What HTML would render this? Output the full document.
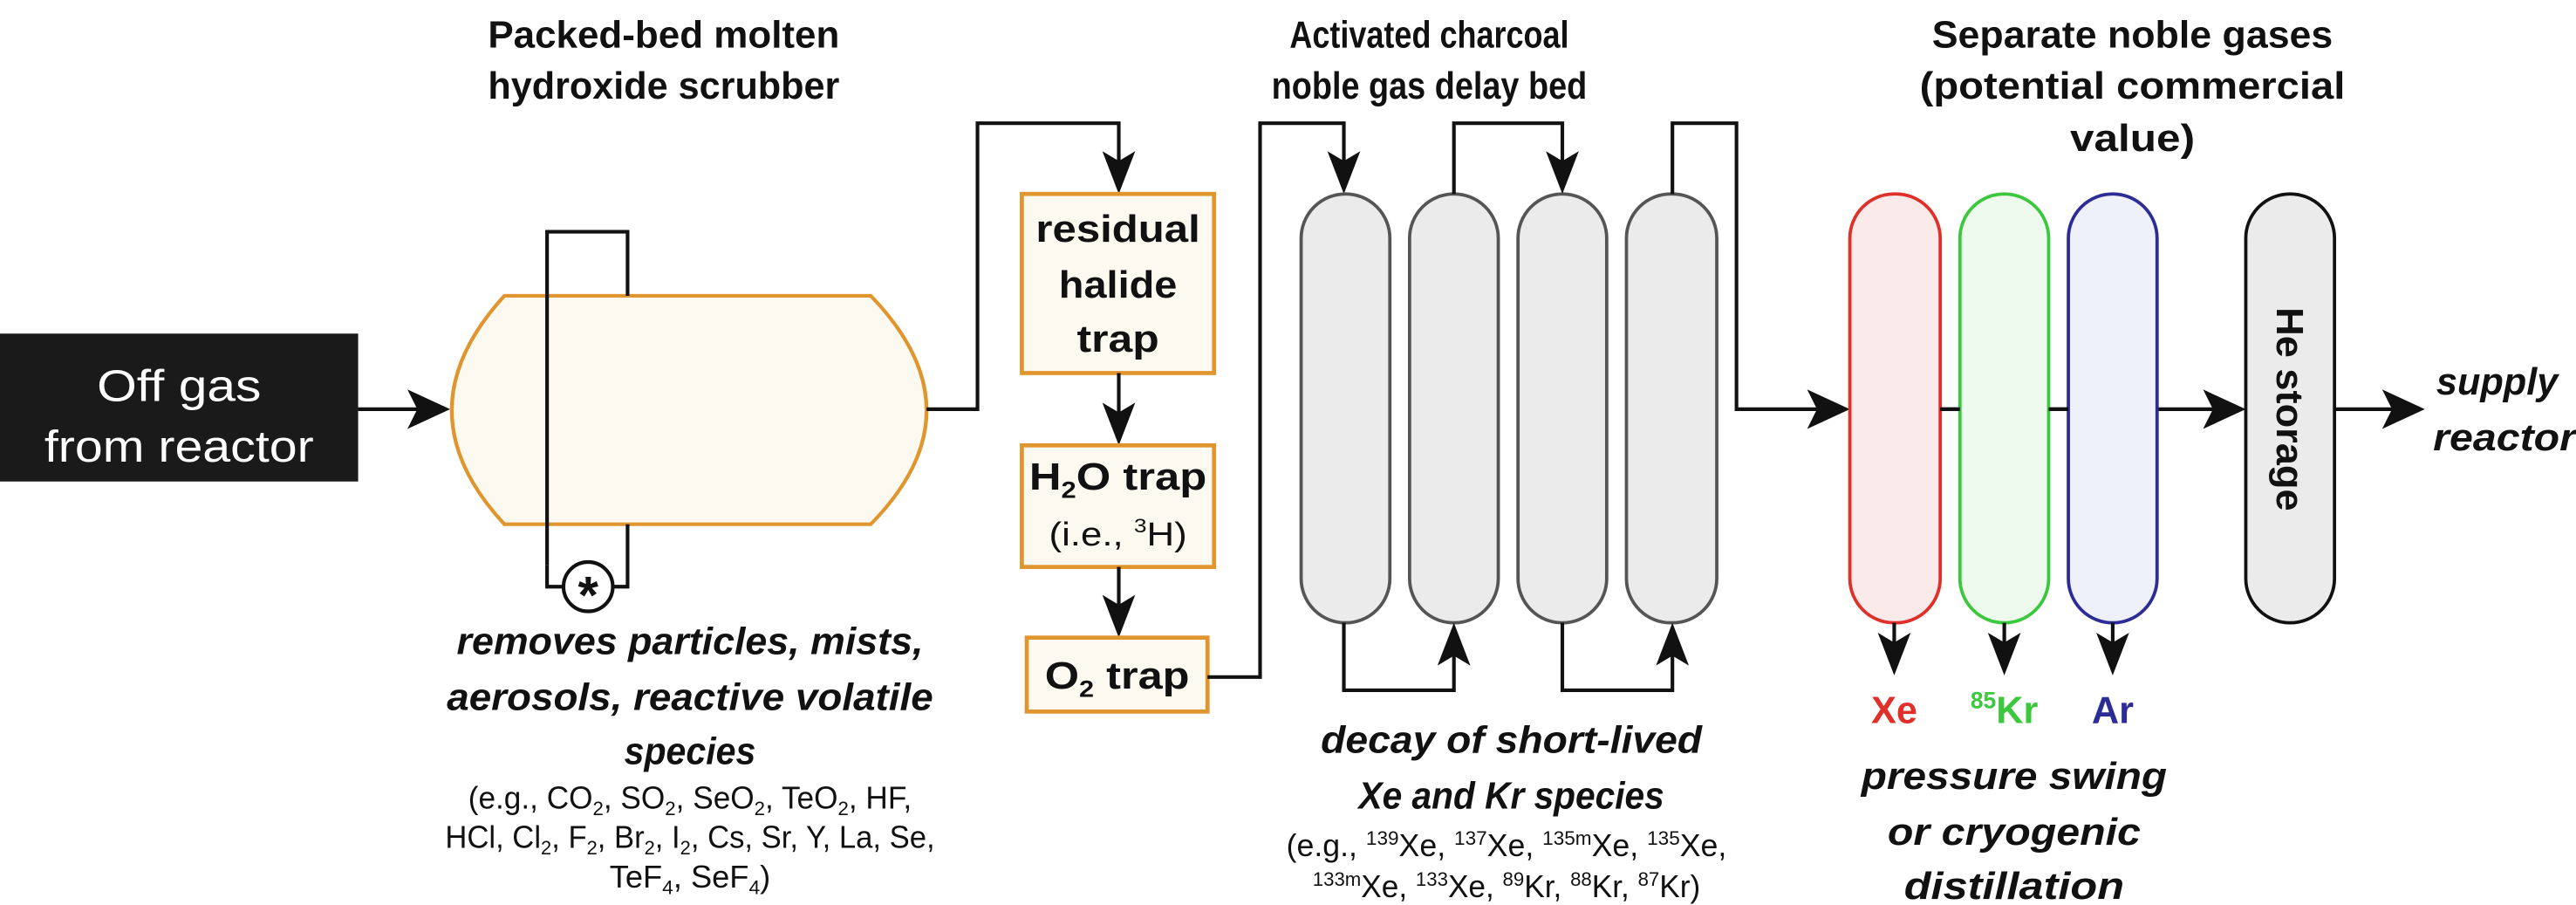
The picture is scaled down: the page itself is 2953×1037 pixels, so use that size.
<!DOCTYPE html>
<html><head><meta charset="utf-8"><style>
html,body{margin:0;padding:0;background:#fff;}
svg{display:block;}
text{font-family:"Liberation Sans",sans-serif;}
.b{font-weight:bold;}
.bi{font-weight:bold;font-style:italic;}
</style></head><body>
<svg width="2953" height="1037" viewBox="0 0 1568 550.7" preserveAspectRatio="none" xmlns="http://www.w3.org/2000/svg">
<g class="b" font-size="23" text-anchor="middle" fill="#111">
<text x="404" y="29" textLength="214" lengthAdjust="spacingAndGlyphs">Packed-bed molten</text>
<text x="404" y="60" textLength="214" lengthAdjust="spacingAndGlyphs">hydroxide scrubber</text>
</g>
<g class="b" font-size="23" text-anchor="middle" fill="#111">
<text x="870" y="29" textLength="170" lengthAdjust="spacingAndGlyphs">Activated charcoal</text>
<text x="870" y="60" textLength="192" lengthAdjust="spacingAndGlyphs">noble gas delay bed</text>
</g>
<g class="b" font-size="23" text-anchor="middle" fill="#111">
<text x="1298" y="29" textLength="244" lengthAdjust="spacingAndGlyphs">Separate noble gases</text>
<text x="1298" y="60" textLength="259" lengthAdjust="spacingAndGlyphs">(potential commercial</text>
<text x="1298" y="92" textLength="76" lengthAdjust="spacingAndGlyphs">value)</text>
</g>

<g>
<rect x="0" y="203" width="218" height="90" fill="#1a1a1a"/>
<text x="109" y="244" font-size="27" fill="#fff" text-anchor="middle" textLength="100" lengthAdjust="spacingAndGlyphs">Off gas</text>
<text x="109" y="281" font-size="27" fill="#fff" text-anchor="middle" textLength="164" lengthAdjust="spacingAndGlyphs">from reactor</text>
</g>
<g>
<line x1="218" y1="249" x2="262" y2="249" stroke="#111" stroke-width="2.2"/>
<polygon points="274,249 248,237 254,249 248,261" fill="#111"/>
</g>

<g>
<path d="M307,180 L530,180 Q598,250 530,319 L307,319 Q243,250 307,180 Z" fill="#fcf9f0" stroke="#e0952e" stroke-width="2.2"/>
</g>
<g fill="none" stroke="#111" stroke-width="2.2">
<path d="M333,344 L333,141 L382,141 L382,180"/>
<path d="M382,319 L382,357 L373,357"/>
<path d="M343,357 L333,357 L333,344"/>
</g>
<g>
<circle cx="358" cy="357" r="15" fill="#fff" stroke="#111" stroke-width="2.2"/>
<text x="358" y="373" font-size="32" font-weight="bold" text-anchor="middle" fill="#111">*</text>
</g>
<g fill="#111" text-anchor="middle">
<text class="bi" x="420" y="398" font-size="23" textLength="284" lengthAdjust="spacingAndGlyphs">removes particles, mists,</text>
<text class="bi" x="420" y="432" font-size="23" textLength="296" lengthAdjust="spacingAndGlyphs">aerosols, reactive volatile</text>
<text class="bi" x="420" y="465" font-size="23" textLength="80" lengthAdjust="spacingAndGlyphs">species</text>
<text x="420" y="492" font-size="19" textLength="270" lengthAdjust="spacingAndGlyphs">(e.g., CO<tspan font-size="12" dy="4">2</tspan><tspan dy="-4">, SO</tspan><tspan font-size="12" dy="4">2</tspan><tspan dy="-4">, SeO</tspan><tspan font-size="12" dy="4">2</tspan><tspan dy="-4">, TeO</tspan><tspan font-size="12" dy="4">2</tspan><tspan dy="-4">, HF,</tspan></text>
<text x="420" y="516" font-size="19" textLength="298" lengthAdjust="spacingAndGlyphs">HCl, Cl<tspan font-size="12" dy="4">2</tspan><tspan dy="-4">, F</tspan><tspan font-size="12" dy="4">2</tspan><tspan dy="-4">, Br</tspan><tspan font-size="12" dy="4">2</tspan><tspan dy="-4">, I</tspan><tspan font-size="12" dy="4">2</tspan><tspan dy="-4">, Cs, Sr, Y, La, Se,</tspan></text>
<text x="420" y="540" font-size="19" textLength="98" lengthAdjust="spacingAndGlyphs">TeF<tspan font-size="12" dy="4">4</tspan><tspan dy="-4">, SeF</tspan><tspan font-size="12" dy="4">4</tspan><tspan dy="-4">)</tspan></text>
</g>

<g>
<path d="M564,249 L595,249 L595,75 L681,75 L681,104" fill="none" stroke="#111" stroke-width="2.2"/>
<polygon points="681,118 671,92 681,98 691,92" fill="#111"/>
</g>
<g>
<rect x="622" y="118" width="117" height="109" fill="#fcf9f0" stroke="#e0952e" stroke-width="2.5"/>
<g class="b" font-size="23" text-anchor="middle" fill="#111">
<text x="680.5" y="147" textLength="100" lengthAdjust="spacingAndGlyphs">residual</text>
<text x="680.5" y="181" textLength="72" lengthAdjust="spacingAndGlyphs">halide</text>
<text x="680.5" y="214" textLength="50" lengthAdjust="spacingAndGlyphs">trap</text>
</g>
</g>
<g>
<line x1="681" y1="227" x2="681" y2="258" stroke="#111" stroke-width="2.2"/>
<polygon points="681,271 671,245 681,251 691,245" fill="#111"/>
</g>
<g>
<rect x="622" y="271" width="117" height="74" fill="#fcf9f0" stroke="#e0952e" stroke-width="2.5"/>
<text class="b" x="680.5" y="298" font-size="23" text-anchor="middle" fill="#111" textLength="108" lengthAdjust="spacingAndGlyphs">H<tspan font-size="14" dy="5">2</tspan><tspan dy="-5">O trap</tspan></text>
<text x="680.5" y="332" font-size="20" text-anchor="middle" fill="#111" textLength="84" lengthAdjust="spacingAndGlyphs">(i.e., <tspan font-size="12" dy="-8">3</tspan><tspan dy="8">H)</tspan></text>
</g>
<g>
<line x1="681" y1="345" x2="681" y2="375" stroke="#111" stroke-width="2.2"/>
<polygon points="681,388 671,362 681,368 691,362" fill="#111"/>
</g>
<g>
<rect x="625" y="388" width="110" height="45" fill="#fcf9f0" stroke="#e0952e" stroke-width="2.5"/>
<text class="b" x="680" y="419" font-size="23" text-anchor="middle" fill="#111" textLength="88" lengthAdjust="spacingAndGlyphs">O<tspan font-size="14" dy="5">2</tspan><tspan dy="-5"> trap</tspan></text>
</g>
<g>
<path d="M735,412 L767,412 L767,75 L818,75 L818,104" fill="none" stroke="#111" stroke-width="2.2"/>
<polygon points="818,118 808,92 818,98 828,92" fill="#111"/>
</g>

<g fill="#ebebeb" stroke="#555" stroke-width="2">
<rect x="792" y="118" width="54" height="261" rx="27" ry="27"/>
<rect x="858" y="118" width="54" height="261" rx="27" ry="27"/>
<rect x="924" y="118" width="54" height="261" rx="27" ry="27"/>
<rect x="990" y="118" width="55" height="261" rx="27" ry="27"/>
</g>
<g>
<path d="M818,379 L818,420 L885,420 L885,393" fill="none" stroke="#111" stroke-width="2.2"/>
<polygon points="885,379 875,405 885,399 895,405" fill="#111"/>
<path d="M885,118 L885,75 L951,75 L951,104" fill="none" stroke="#111" stroke-width="2.2"/>
<polygon points="951,118 941,92 951,98 961,92" fill="#111"/>
<path d="M951,379 L951,420 L1018,420 L1018,393" fill="none" stroke="#111" stroke-width="2.2"/>
<polygon points="1018,379 1008,405 1018,399 1028,405" fill="#111"/>
<path d="M1018,118 L1018,75 L1057,75 L1057,249 L1112,249" fill="none" stroke="#111" stroke-width="2.2"/>
<polygon points="1126,249 1100,237 1106,249 1100,261" fill="#111"/>
</g>
<g fill="#111" text-anchor="middle">
<text class="bi" x="920" y="458" font-size="23" textLength="232" lengthAdjust="spacingAndGlyphs">decay of short-lived</text>
<text class="bi" x="920" y="492" font-size="23" textLength="186" lengthAdjust="spacingAndGlyphs">Xe and Kr species</text>
<text x="917" y="521" font-size="19" textLength="268" lengthAdjust="spacingAndGlyphs">(e.g., <tspan font-size="12" dy="-7">139</tspan><tspan dy="7">Xe, </tspan><tspan font-size="12" dy="-7">137</tspan><tspan dy="7">Xe, </tspan><tspan font-size="12" dy="-7">135m</tspan><tspan dy="7">Xe, </tspan><tspan font-size="12" dy="-7">135</tspan><tspan dy="7">Xe,</tspan></text>
<text x="917" y="546" font-size="19" textLength="236" lengthAdjust="spacingAndGlyphs"><tspan font-size="12" dy="-7">133m</tspan><tspan dy="7">Xe, </tspan><tspan font-size="12" dy="-7">133</tspan><tspan dy="7">Xe, </tspan><tspan font-size="12" dy="-7">89</tspan><tspan dy="7">Kr, </tspan><tspan font-size="12" dy="-7">88</tspan><tspan dy="7">Kr, </tspan><tspan font-size="12" dy="-7">87</tspan><tspan dy="7">Kr)</tspan></text>
</g>

<g>
<line x1="1126" y1="249" x2="1354" y2="249" stroke="#111" stroke-width="2.2"/>
<polygon points="1367,249 1341,237 1347,249 1341,261" fill="#111"/>
<line x1="1421" y1="249" x2="1463" y2="249" stroke="#111" stroke-width="2.2"/>
<polygon points="1476,249 1450,237 1456,249 1450,261" fill="#111"/>
</g>
<rect x="1126" y="118" width="55" height="261" rx="27" ry="27" fill="#fbeaea" stroke="#e0302a" stroke-width="2"/>
<rect x="1193" y="118" width="54" height="261" rx="27" ry="27" fill="#eefaee" stroke="#3cc83c" stroke-width="2"/>
<rect x="1259" y="118" width="54" height="261" rx="27" ry="27" fill="#eef0fa" stroke="#2c2c96" stroke-width="2"/>
<line x1="1181" y1="249" x2="1193" y2="249" stroke="#111" stroke-width="2.2"/>
<line x1="1247" y1="249" x2="1259" y2="249" stroke="#111" stroke-width="2.2"/>
<g>
<line x1="1153" y1="379" x2="1153" y2="398" stroke="#111" stroke-width="2.2"/>
<polygon points="1153,411 1143,385 1153,391 1163,385" fill="#111"/>
<line x1="1220" y1="379" x2="1220" y2="398" stroke="#111" stroke-width="2.2"/>
<polygon points="1220,411 1210,385 1220,391 1230,385" fill="#111"/>
<line x1="1286" y1="379" x2="1286" y2="398" stroke="#111" stroke-width="2.2"/>
<polygon points="1286,411 1276,385 1286,391 1296,385" fill="#111"/>
</g>
<g class="b" font-size="23" text-anchor="middle">
<text x="1153" y="440" fill="#e0302a">Xe</text>
<text x="1220" y="440" fill="#3cc83c"><tspan font-size="14" dy="-9">85</tspan><tspan dy="9">Kr</tspan></text>
<text x="1286" y="440" fill="#2c2c96">Ar</text>
</g>
<g class="bi" font-size="23" text-anchor="middle" fill="#111">
<text x="1226" y="480" textLength="186" lengthAdjust="spacingAndGlyphs">pressure swing</text>
<text x="1226" y="514" textLength="154" lengthAdjust="spacingAndGlyphs">or cryogenic</text>
<text x="1226" y="547" textLength="134" lengthAdjust="spacingAndGlyphs">distillation</text>
</g>

<g>
<rect x="1367" y="118" width="54" height="261" rx="27" ry="27" fill="#ebebeb" stroke="#111" stroke-width="2"/>
<text class="b" x="1394" y="249" font-size="23" text-anchor="middle" fill="#111" transform="rotate(90 1394 249)" dy="8" textLength="124" lengthAdjust="spacingAndGlyphs">He storage</text>
</g>
<g class="bi" font-size="23" fill="#111">
<text x="1483" y="240" textLength="74" lengthAdjust="spacingAndGlyphs">supply</text>
<text x="1481" y="274" textLength="87" lengthAdjust="spacingAndGlyphs">reactor</text>
</g>
</svg>
</body></html>
